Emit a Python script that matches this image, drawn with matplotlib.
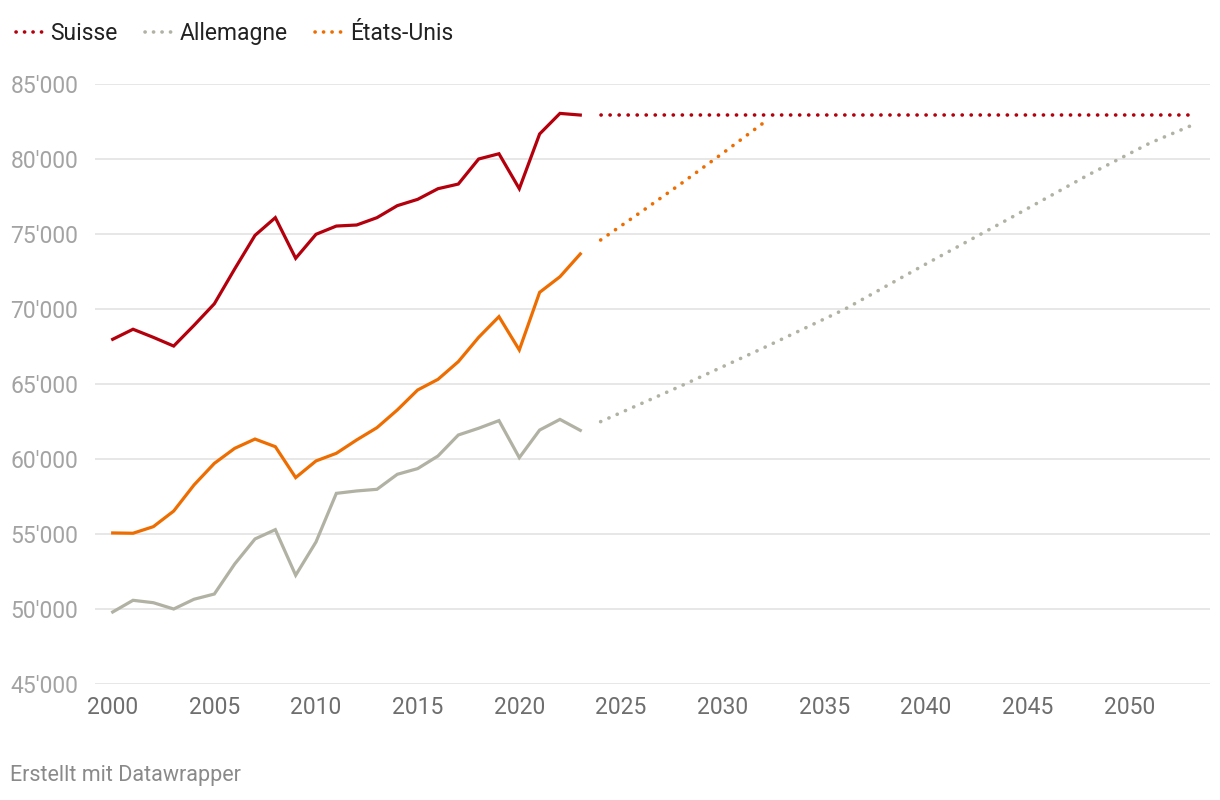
import matplotlib.pyplot as plt
from matplotlib.lines import Line2D

plt.rcParams['font.family'] = ['Roboto', 'DejaVu Sans']

# données observées 2000-2023
years = list(range(2000, 2024))
suisse = [67980, 68650, 68110, 67530, 68910, 70350, 72670, 74910, 76090, 73380,
          74980, 75530, 75600, 76090, 76890, 77310, 78020, 78330, 80000, 80350,
          78020, 81670, 83040, 82930]
usa = [55070, 55050, 55490, 56530, 58270, 59710, 60710, 61330, 60820, 58760,
       59870, 60380, 61270, 62090, 63270, 64600, 65310, 66490, 68110, 69490,
       67270, 71110, 72150, 73670]
allemagne = [49800, 50580, 50420, 50000, 50650, 51000, 53000, 54670, 55290, 52250,
             54470, 57710, 57870, 57980, 58980, 59360, 60200, 61600, 62050, 62560,
             60090, 61930, 62640, 61910]

# projections (pointillés)
suisse_proj_x = [2024, 2053]
suisse_proj = [82930, 82930]
usa_proj_x = [2024, 2026, 2028, 2030, 2032]
usa_proj = [74600, 76480, 78400, 80380, 82400]
all_proj_x = [2024, 2028, 2032, 2036, 2040, 2044, 2048, 2051, 2053]
all_proj = [62490, 64900, 67400, 69980, 73000, 75950, 78950, 81050, 82200]

labels = ['Suisse', 'Allemagne', 'États-Unis']
c_ch = '#b3000c'
c_de = '#b1b1a4'
c_us = '#ee6d00'

fig = plt.figure(figsize=(12.2, 8), dpi=100)
ax = fig.add_axes([95 / 1220, 1 - 684 / 800, (1210 - 95) / 1220, 600 / 800])

lw = 2.3
ax.plot(years, allemagne, color=c_de, lw=lw, solid_joinstyle='miter')
ax.plot(years, usa, color=c_us, lw=lw, solid_joinstyle='miter')
ax.plot(years, suisse, color=c_ch, lw=lw, solid_joinstyle='miter')

dot = dict(lw=2.6, linestyle=(0, (0.05, 2.45)), dash_capstyle='round')
ax.plot(all_proj_x, all_proj, color=c_de, **dot)
ax.plot(usa_proj_x, usa_proj, color=c_us, **dot)
ax.plot(suisse_proj_x, suisse_proj, color=c_ch, **dot)

x0 = 2000 - (112.7 - 95) / 20.33
x1 = 2000 + (1210 - 112.7) / 20.33
ax.set_xlim(x0, x1)
ax.set_ylim(45000, 85000)

yt = list(range(45000, 85001, 5000))
ax.set_yticks(yt)
ax.set_yticklabels([f"{v // 1000}'000" for v in yt])
ax.tick_params(axis='y', length=0, pad=61, labelsize=16.5, labelcolor='#a3a3a3')
for t in ax.get_yticklabels():
    t.set_horizontalalignment('left')
ax.set_xticks(list(range(2000, 2051, 5)))
ax.tick_params(axis='x', length=0, pad=9, labelsize=16.5, labelcolor='#6e6e6e')

ax.grid(axis='y', color='#e3e3e3', lw=1.2)
ax.set_axisbelow(True)
for s in ax.spines.values():
    s.set_visible(False)

handles = [Line2D([0], [0], color=c, lw=2.6, linestyle=(0, (0.05, 2.3)),
                  dash_capstyle='round') for c in [c_ch, c_de, c_us]]
fig.legend(handles, labels, loc='upper left', bbox_to_anchor=(0.0, 0.993),
           ncol=3, frameon=False, fontsize=16.5, handlelength=1.3,
           handletextpad=0.2, columnspacing=1.2, borderaxespad=0.3,
           labelcolor='#222222')

fig.text(10 / 1220, 1 - 776 / 800, 'Erstellt mit Datawrapper', fontsize=15.5,
         color='#8a8a8a', va='center', ha='left')

fig.savefig('out.png', dpi=100)
